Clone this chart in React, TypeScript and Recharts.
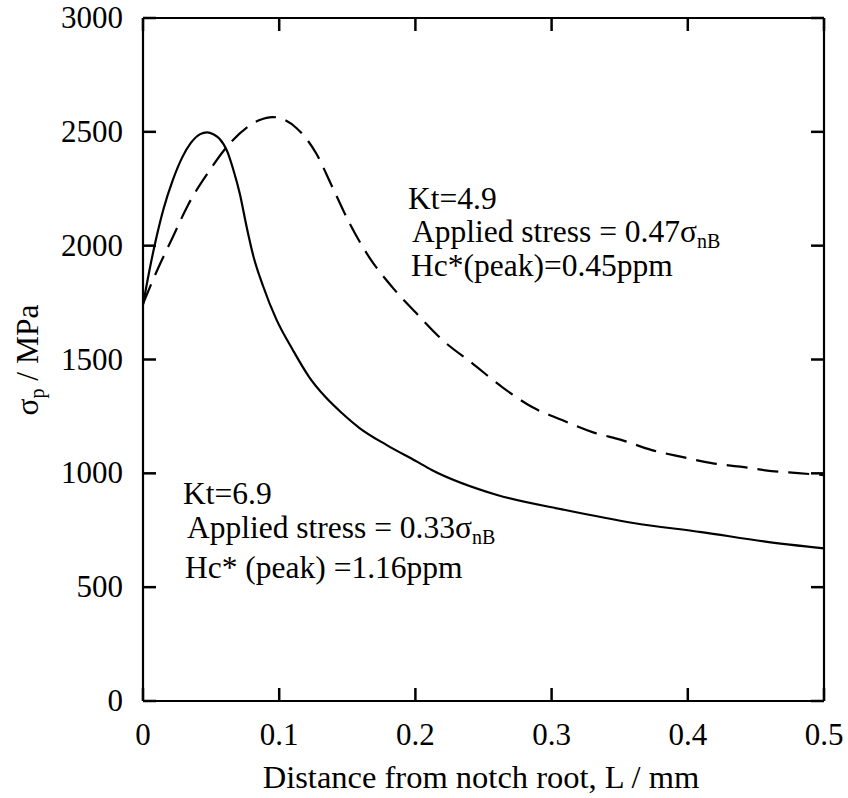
import React from 'react';
import { LineChart, Line, XAxis, YAxis } from 'recharts';

// Kt = 6.9, applied stress 0.33 σnB (solid)
const kt69L = [0, 0.005, 0.01, 0.015, 0.022, 0.029, 0.035, 0.042, 0.047, 0.052, 0.056, 0.062, 0.066, 0.071, 0.076, 0.081, 0.088, 0.098, 0.11, 0.122, 0.134, 0.146, 0.159, 0.179, 0.2, 0.212, 0.26, 0.31, 0.36, 0.41, 0.457, 0.5];
const kt69Stress = [1740, 1900, 2040, 2160, 2290, 2390, 2450, 2490, 2498, 2488, 2471, 2412, 2340, 2230, 2085, 1955, 1825, 1675, 1542, 1423, 1335, 1265, 1199, 1124, 1055, 1015, 905, 839, 782, 742, 700, 670];

// Kt = 4.9, applied stress 0.47 σnB (dashed)
const kt49L = [0, 0.011, 0.022, 0.033, 0.0476, 0.064, 0.0857, 0.095, 0.1128, 0.127, 0.139, 0.1516, 0.166, 0.183, 0.2006, 0.22, 0.2416, 0.2637, 0.2857, 0.3077, 0.33, 0.3516, 0.3736, 0.3956, 0.4176, 0.44, 0.4615, 0.481, 0.5];
const kt49Stress = [1745, 1900, 2039, 2178, 2319, 2451, 2552, 2565, 2516, 2407, 2258, 2099, 1950, 1818, 1704, 1585, 1484, 1379, 1291, 1234, 1181, 1146, 1102, 1072, 1045, 1028, 1010, 1001, 992];

const xTicks = [0, 0.1, 0.2, 0.3, 0.4, 0.5];
const xTickLabels = ['0', '0.1', '0.2', '0.3', '0.4', '0.5'];
const yTicks = [0, 500, 1000, 1500, 2000, 2500, 3000];

const kt69Data = kt69L.map((x, i) => ({ x, y: kt69Stress[i] }));
const kt49Data = kt49L.map((x, i) => ({ x, y: kt49Stress[i] }));

const FONT = "'Liberation Serif', 'Times New Roman', serif";
const TICK_FS = 31;
const FS = 31.5;

const BottomTick = (props: any) => {
  const { x, y, index } = props;
  return (
    <text x={x} y={y + 44} textAnchor="middle" style={{ fontFamily: FONT, fontSize: TICK_FS }} fill="#000">
      {xTickLabels[index]}
    </text>
  );
};

const LeftTick = (props: any) => {
  const { x, y, payload } = props;
  return (
    <text x={x} y={y + 10} textAnchor="end" style={{ fontFamily: FONT, fontSize: TICK_FS }} fill="#000">
      {payload.value}
    </text>
  );
};

const NoTick = () => <g />;

const axisLine = { stroke: '#000', strokeWidth: 2.2 };
const tickLine = { stroke: '#000', strokeWidth: 2.5 };

export default function App() {
  return (
    <div style={{ position: 'absolute', left: 0, top: 0, width: 848, height: 798, background: '#fff', fontFamily: FONT }}>
      <LineChart width={848} height={798} margin={{ top: 17, right: 23, bottom: 0, left: 0 }}>
        <XAxis xAxisId="b" dataKey="x" type="number" domain={[0, 0.5]} ticks={xTicks} interval={0}
          orientation="bottom" height={97} axisLine={axisLine} tickLine={tickLine} tickSize={-13} tickMargin={13}
          tick={<BottomTick />} allowDataOverflow />
        <XAxis xAxisId="t" dataKey="x" type="number" domain={[0, 0.5]} ticks={xTicks} interval={0}
          orientation="top" height={1} axisLine={axisLine} tickLine={tickLine} tickSize={-13} tickMargin={0}
          tick={<NoTick />} allowDataOverflow />
        <YAxis yAxisId="l" type="number" domain={[0, 3000]} ticks={yTicks} interval={0}
          orientation="left" width={143} axisLine={axisLine} tickLine={tickLine} tickSize={-13} tickMargin={33}
          tick={<LeftTick />} allowDataOverflow />
        <YAxis yAxisId="r" type="number" domain={[0, 3000]} ticks={yTicks} interval={0}
          orientation="right" width={1} axisLine={axisLine} tickLine={tickLine} tickSize={-13} tickMargin={0}
          tick={<NoTick />} allowDataOverflow />
        <Line xAxisId="b" yAxisId="l" data={kt69Data} dataKey="y" type="monotone" stroke="#000"
          strokeWidth={2.2} dot={false} isAnimationActive={false} />
        <Line xAxisId="b" yAxisId="l" data={kt49Data} dataKey="y" type="monotone" stroke="#000"
          strokeWidth={2.2} strokeDasharray="21 10" dot={false} isAnimationActive={false} />
      </LineChart>
      <svg width={848} height={798} style={{ position: 'absolute', left: 0, top: 0, pointerEvents: 'none', fontFamily: FONT, fontSize: FS }}
        fill="#000">
        <text x={408} y={209}>Kt=4.9</text>
        <text x={412} y={242}>Applied stress = 0.47σ<tspan fontSize={20} dy={6}>nB</tspan></text>
        <text x={411} y={276}>Hc*(peak)=0.45ppm</text>

        <text x={183} y={504}>Kt=6.9</text>
        <text x={187} y={538}>Applied stress = 0.33σ<tspan fontSize={20} dy={6}>nB</tspan></text>
        <text x={185} y={578}>Hc* (peak) =1.16ppm</text>

        <text x={481} y={788} textAnchor="middle" style={{ fontSize: 32.5 }}>Distance from notch root, L / mm</text>
        <text transform="translate(38,360) rotate(-90)" textAnchor="middle">σ<tspan fontSize={20} dy={6}>p</tspan><tspan dy={-6}> / MPa</tspan></text>
      </svg>
    </div>
  );
}
